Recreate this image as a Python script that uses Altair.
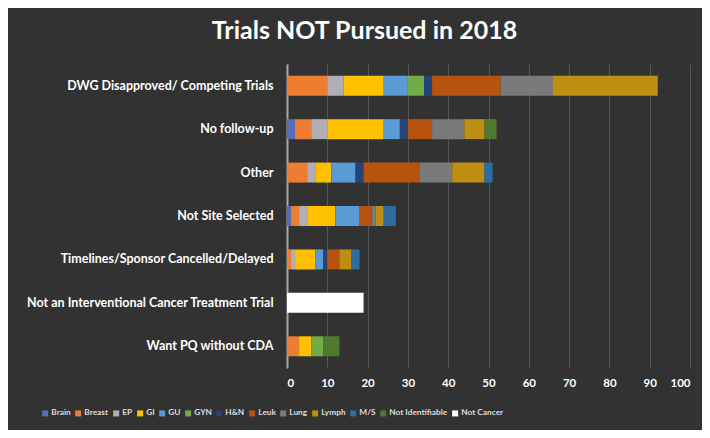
import altair as alt
import pandas as pd

categories = [
    "DWG Disapproved/ Competing Trials",
    "No follow-up",
    "Other",
    "Not Site Selected",
    "Timelines/Sponsor Cancelled/Delayed",
    "Not an Interventional Cancer Treatment Trial",
    "Want PQ without CDA",
]
series = ["Brain", "Breast", "EP", "GI", "GU", "GYN", "H&N", "Leuk", "Lung",
          "Lymph", "M/S", "Not Identifiable", "Not Cancer"]
colors = ["#5a6cb8", "#ED7D31", "#b2aeb6", "#FFC000", "#5B9BD5", "#70AD47",
          "#264478", "#B8520F", "#7a7a7a", "#BE8E12", "#2E6DA4", "#4e7a30", "#ffffff"]

brain = [0, 2, 0, 1, 0, 0, 0]
breast = [10, 4, 5, 2, 1, 0, 3]
ep = [4, 4, 2, 2, 1, 0, 0]
gi = [10, 14, 4, 7, 5, 0, 3]
gu = [6, 4, 6, 6, 2, 0, 0]
gyn = [4, 0, 0, 0, 0, 0, 3]
hn = [2, 2, 2, 0, 1, 0, 0]
leuk = [17, 6, 14, 3, 3, 0, 0]
lung = [13, 8, 8, 1, 0, 0, 0]
lymph = [26, 5, 8, 2, 3, 0, 0]
ms = [0, 0, 2, 3, 2, 0, 0]
not_ident = [0, 3, 0, 0, 0, 0, 4]
not_cancer = [0, 0, 0, 0, 0, 19, 0]

x_ticks = [0, 10, 20, 30, 40, 50, 60, 70, 80, 90, 100]

values = [brain, breast, ep, gi, gu, gyn, hn, leuk, lung, lymph, ms, not_ident, not_cancer]
rows = []
for si, s in enumerate(series):
    for ci, c in enumerate(categories):
        v = values[si][ci]
        if v > 0:
            rows.append({"reason": c, "site": s, "count": v, "ord": si})
df = pd.DataFrame(rows)

FONT = "Lato"

chart = alt.Chart(df).mark_bar().encode(
    y=alt.Y("reason:N", sort=categories,
            scale=alt.Scale(paddingInner=0.54, paddingOuter=0.27),
            axis=alt.Axis(title=None, labelFont=FONT, labelFontSize=12.5,
                          labelFontWeight="bold", labelColor="#ffffff",
                          labelPadding=14, labelLimit=320, ticks=False,
                          domainColor="#a8a8a8", domainWidth=2, grid=False)),
    x=alt.X("count:Q", stack="zero",
            scale=alt.Scale(domain=[0, 100], nice=False),
            axis=alt.Axis(title=None, values=x_ticks, labelFont=FONT,
                          labelFontSize=11.5, labelFontWeight="bold",
                          labelColor="#ffffff", labelPadding=9, ticks=False,
                          domain=False, grid=True, gridColor="#565656",
                          gridWidth=1)),
    color=alt.Color("site:N", scale=alt.Scale(domain=series, range=colors),
                    legend=alt.Legend(title=None, orient="none", direction="horizontal",
                                      columns=13, legendX=-246, legendY=345,
                                      symbolType="square", symbolSize=36,
                                      symbolStrokeWidth=0, labelFont=FONT,
                                      labelFontSize=8.3, labelFontWeight="bold",
                                      labelColor="#dddddd", labelOffset=2,
                                      columnPadding=3)),
    order=alt.Order("ord:Q"),
).properties(
    width=403,
    height=304,
    title=alt.TitleParams("Trials NOT Pursued in 2018", font=FONT, fontSize=25,
                          fontWeight="bold", color="#ffffff", anchor="middle",
                          dx=-124, offset=20),
    background="#323232",
    padding={"left": 279, "top": 56, "right": 12, "bottom": 62},
    autosize=alt.AutoSizeParams(type="none"),
).configure_view(stroke=None)

chart.save("out.html", embed_options={"renderer": "svg", "actions": False})
